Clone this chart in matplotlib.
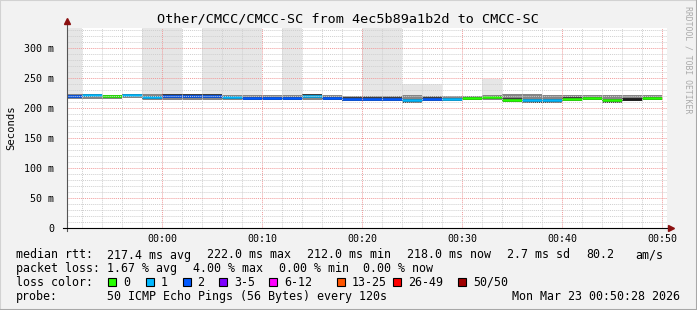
import numpy as np
import matplotlib
matplotlib.use('Agg')
import matplotlib.pyplot as plt
from matplotlib.patches import Rectangle
from matplotlib.lines import Line2D

W, H = 697, 310
MONO = 'DejaVu Sans Mono'

# Data: one 120 s step per entry, start time in minutes relative to 00:00
seg_start  = [-10, -8, -6, -4, -2, 0, 2, 4, 6, 8, 10, 12, 14, 16, 18,
              20, 22, 24, 26, 28, 30, 32, 34, 36, 38, 40, 42, 44, 46, 48]
median_ms  = [220.0, 221.5, 220.0, 222.0, 218.5, 220.5, 220.5, 220.5, 218.5, 216.5,
              217.0, 217.0, 220.5, 217.0, 215.5, 215.5, 215.5, 212.5, 215.5, 215.0,
              217.0, 218.5, 214.0, 213.0, 213.0, 215.5, 216.5, 213.0, 215.0, 217.0]
loss_cnt   = [2, 1, 0, 1, 1, 2, 2, 2, 1, 2,
              2, 2, 1, 2, 2, 2, 2, 1, 2, 1,
              0, 0, 0, 1, 1, 0, 0, 0, -1, 0]     # -1: no colour (dark line)
band_lo    = [215, 215, 215, 216, 214, 214, 214, 214, 214, 213,
              213, 213, 214, 213, 212, 212, 212, 210, 212, 211,
              213, 213, 211, 210, 210, 212, 213, 210, 212, 214]
band_hi    = [223, 223, 222, 223, 223, 222, 222, 222, 222, 221,
              221, 221, 221, 221, 220, 220, 220, 221, 220, 220,
              220, 221, 223, 224, 221, 221, 222, 222, 222, 222]
smoke_max  = [400, 223, 222, 223, 400, 400, 222, 400, 400, 400,
              221, 400, 221, 221, 220, 400, 400, 240, 240, 220,
              220, 248, 223, 224, 221, 221, 222, 222, 222, 222]

y_ticks    = [0, 50, 100, 150, 200, 250, 300]
y_labels   = ['0', '50 m', '100 m', '150 m', '200 m', '250 m', '300 m']
x_ticks    = [0, 10, 20, 30, 40, 50]
x_labels   = ['00:00', '00:10', '00:20', '00:30', '00:40', '00:50']

loss_names  = ['0', '1', '2', '3-5', '6-12', '13-25', '26-49', '50/50']
loss_colors = ['#26ff00', '#00b8ff', '#0059ff', '#7e00ff', '#ff00ff',
               '#ff5500', '#ff0000', '#a10000']

# figure / canvas
fig = plt.figure(figsize=(W / 100, H / 100), dpi=100)
fig.patch.set_facecolor('#f2f2f2')

def fx(px):
    return px / W

def fy(py):
    return 1 - py / H

ax = fig.add_axes([fx(67), fy(228), 600 / W, 200 / H])
ax.set_facecolor('white')
ax.set_xlim(-9.533, 50.467)
ax.set_ylim(0, 333.3)

starts = np.array(seg_start, dtype=float)
med = np.array(median_ms)
lo = np.array(band_lo)
hi = np.array(band_hi)
top = np.array(smoke_max)

# smoke
ax.bar(starts, top - lo, bottom=lo, width=2, align='edge', color='#e6e6e6', lw=0, zorder=1)
ax.bar(starts, hi - lo, bottom=lo, width=2, align='edge', color='#858585', lw=0, zorder=1.1)
ax.bar(starts, 6.0, bottom=med - 4.0, width=2, align='edge', color='#3e3e3e', lw=0, zorder=1.2)

# median, coloured by loss
cols = [loss_colors[c] if c >= 0 else '#1c1c1c' for c in loss_cnt]
ax.hlines(med, starts, starts + 2, colors=cols, lw=1.8, zorder=2)

# grid on top like rrdtool
ax.set_xticks(x_ticks)
ax.set_xticks(np.arange(-8, 51, 2), minor=True)
ax.set_yticks(y_ticks)
ax.set_yticks(np.arange(0, 334, 10), minor=True)
ax.set_axisbelow(False)
ax.grid(which='minor', color='#cfcfcf', ls=(0, (1, 1)), lw=0.7)
ax.grid(which='major', color='#f09a9a', ls=(0, (1, 1)), lw=0.7)
ax.set_xticklabels(x_labels, family=MONO, fontsize=7.2)
ax.set_yticklabels(y_labels, family=MONO, fontsize=7.2)
ax.tick_params(which='both', length=0)
ax.tick_params(axis='x', pad=4)
ax.tick_params(axis='y', pad=9)
for s in ax.spines.values():
    s.set_visible(False)

# axis lines with arrows
fig.add_artist(Line2D([fx(67), fx(67)], [fy(231), fy(24)], color='#555555', lw=0.8))
fig.add_artist(Line2D([fx(63), fx(669)], [fy(228), fy(228)], color='black', lw=0.8))
fig.add_artist(Line2D([fx(67)], [fy(21)], marker='^', ms=4.5, color='#8b1010', ls=''))
fig.add_artist(Line2D([fx(671)], [fy(228)], marker='>', ms=4.5, color='#8b1010', ls=''))

# title and labels
fig.text(fx(348), fy(19), 'Other/CMCC/CMCC-SC from 4ec5b89a1b2d to CMCC-SC',
         family=MONO, fontsize=9.7, ha='center', va='center')
fig.text(fx(11), fy(128), 'Seconds', family=MONO, fontsize=7.6,
         rotation=90, ha='center', va='center')
fig.text(fx(688), fy(60), 'RRDTOOL / TOBI OETIKER', family=MONO, fontsize=5.9,
         rotation=270, ha='center', va='center', color='#aaaaaa')

# legend rows
LF = 8.4
def row(items, y):
    for x, s in items:
        fig.text(fx(x), fy(y), s, family=MONO, fontsize=LF, ha='left', va='center')

row([(16, 'median rtt:'), (107, '217.4 ms avg'), (207, '222.0 ms max'),
     (307, '212.0 ms min'), (407, '218.0 ms now'), (507, '2.7 ms sd'),
     (586, '80.2'), (635, 'am/s')], 255)
row([(16, 'packet loss:'), (107, '1.67 % avg'), (193, '4.00 % max'),
     (279, '0.00 % min'), (363, '0.00 % now')], 268.5)
row([(16, 'loss color:')], 282.3)
box_x = [108, 145.5, 182.5, 219, 269, 337, 393, 458]
for bx, name, c in zip(box_x, loss_names, loss_colors):
    fig.add_artist(Rectangle((fx(bx), fy(286)), 8 / W, 8 / H, facecolor=c,
                             edgecolor='black', lw=0.8))
    fig.text(fx(bx + 15), fy(282.3), name, family=MONO, fontsize=LF,
             ha='left', va='center')
row([(16, 'probe:'), (107, '50 ICMP Echo Pings (56 Bytes) every 120s')], 296.5)
fig.text(fx(680), fy(296.5), 'Mon Mar 23 00:50:28 2026', family=MONO,
         fontsize=LF, ha='right', va='center')

# 3d frame
fig.add_artist(Line2D([0, 0, 1], [0, 1, 1], color='#d2d2d2', lw=1.5, transform=fig.transFigure))
fig.add_artist(Line2D([0, 1, 1], [0, 0, 1], color='#a8a8a8', lw=2.2, transform=fig.transFigure))

fig.savefig('out.png', dpi=100, facecolor=fig.get_facecolor())
